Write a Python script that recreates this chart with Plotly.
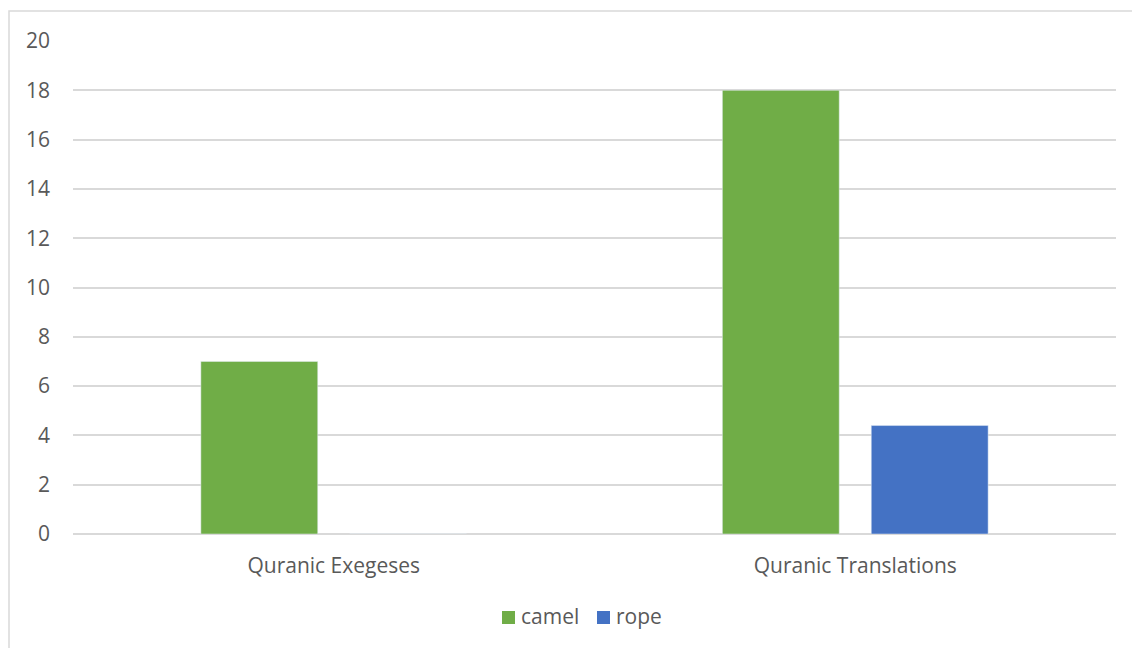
import plotly.graph_objects as go

categories = ["Quranic Exegeses", "Quranic Translations"]
camel = [7, 18]
rope = [0, 4.4]
y_ticks = [0, 2, 4, 6, 8, 10, 12, 14, 16, 18, 20]
series_names = ["camel", "rope"]
series_colors = ["#70AD47", "#4472C4"]

W, H = 1132, 648
L, R, T, B = 73, 16, 41, 114
pw = W - L - R
ph = H - T - B

def px_x(x):
    return (x - L) / pw

def px_y(y):
    return (T + ph - y) / ph

font = "'Open Sans', sans-serif"
fig = go.Figure()
fig.add_trace(go.Bar(name=series_names[0], x=categories, y=camel, marker_color=series_colors[0]))
fig.add_trace(go.Bar(name=series_names[1], x=categories, y=rope, marker_color=series_colors[1]))

# manual legend (symbol + text) to mimic the reference spacing
shapes = [dict(type="rect", xref="paper", yref="paper",
               x0=px_x(9), x1=px_x(W + 20), y0=px_y(H + 20), y1=px_y(11),
               line=dict(color="#d9d9d9", width=1.5), fillcolor="rgba(0,0,0,0)", layer="below")]
annotations = []
legend_x = [502, 597]
for name, color, lx in zip(series_names, series_colors, legend_x):
    shapes.append(dict(type="rect", xref="paper", yref="paper",
                       x0=px_x(lx), x1=px_x(lx + 13), y0=px_y(624), y1=px_y(611),
                       line=dict(width=0), fillcolor=color))
    annotations.append(dict(text=name, xref="paper", yref="paper", x=px_x(lx + 17), y=px_y(616),
                            xanchor="left", yanchor="middle", showarrow=False,
                            font=dict(family=font, size=21, color="#595959")))

fig.update_layout(
    width=W, height=H,
    margin=dict(l=L, r=R, t=T, b=B),
    paper_bgcolor="white", plot_bgcolor="white",
    barmode="group", bargap=0.429, bargroupgap=0.215,
    font=dict(family=font, size=21, color="#595959"),
    showlegend=False,
    xaxis=dict(showgrid=False, showline=False, ticks="", ticklabelstandoff=17,
               tickfont=dict(size=21, color="#595959")),
    yaxis=dict(range=[0, 20], tickvals=y_ticks, showgrid=True, gridcolor="#d9d9d9", gridwidth=1.5,
               zeroline=True, zerolinecolor="#d9d9d9", zerolinewidth=1.5,
               ticks="", ticklabelstandoff=22, tickfont=dict(size=21, color="#595959")),
    shapes=shapes,
    annotations=annotations,
)
fig.write_html("out.html")
